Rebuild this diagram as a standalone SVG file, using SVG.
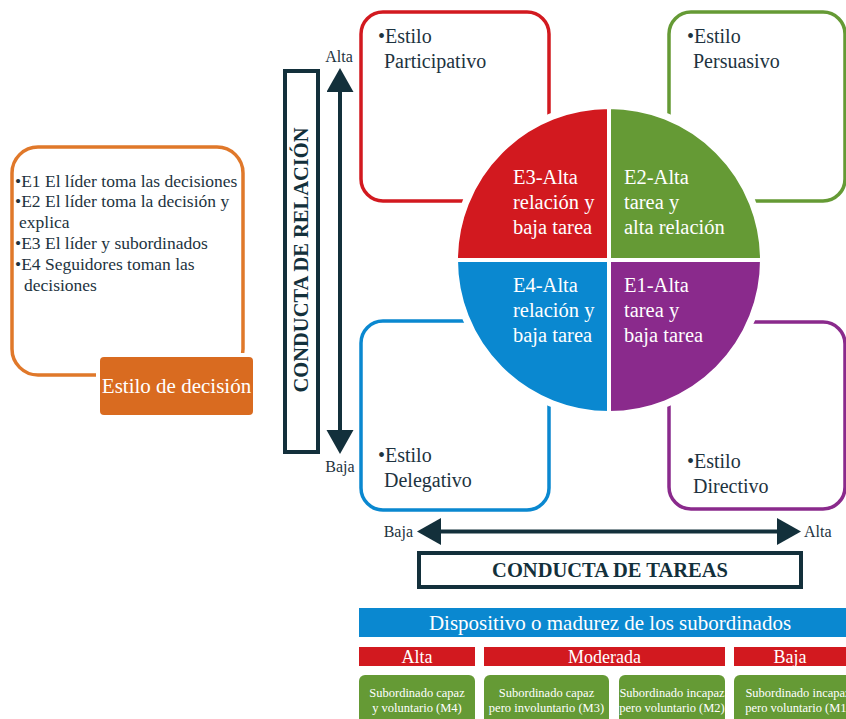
<svg xmlns="http://www.w3.org/2000/svg" width="846" height="719" viewBox="0 0 846 719">
  <defs>
    <style>
      .serif { font-family: "Liberation Serif", "Times New Roman", serif; }
      .dark { fill: #1d3340; }
      .lbl { font-size: 20px; }
      .quad { font-size: 20.5px; fill: #ffffff; }
      .axis { font-size: 16px; fill: #1d3340; }
      .title { font-size: 20.5px; font-weight: bold; fill: #13303b; }
      .frame { fill: #ffffff; stroke-width: 3.5; }
      .axisbox { fill: none; stroke: #13303b; stroke-width: 4; }
      .axisline { stroke: #13303b; stroke-width: 4; fill: none; marker-start: url(#head); marker-end: url(#head); }
      .wt { fill: #ffffff; }
      .small { font-size: 12.5px; fill: #ffffff; }
    </style>
    <marker id="head" markerUnits="userSpaceOnUse" markerWidth="26" markerHeight="28" refX="0" refY="13.5" orient="auto-start-reverse" viewBox="0 0 26 28">
      <path d="M0,0 L24,13.5 L0,27 Z" fill="#13303b"/>
    </marker>
  </defs>

  <rect width="846" height="719" fill="#ffffff"/>

  <!-- decision style panel -->
  <g id="decision-style">
    <rect x="12" y="147" width="231" height="228" rx="26" fill="#ffffff" stroke="#e0782a" stroke-width="3.5"/>
    <g class="serif dark" font-size="17.5">
      <text x="15" y="187">•E1 El líder toma las decisiones</text>
      <text x="15" y="207">•E2 El líder toma la decisión y</text>
      <text x="19" y="228">explica</text>
      <text x="15" y="249">•E3 El líder y subordinados</text>
      <text x="15" y="270">•E4 Seguidores toman las</text>
      <text x="24" y="291">decisiones</text>
    </g>
    <rect x="96" y="353" width="161" height="66" fill="#ffffff"/>
    <rect x="100" y="357" width="153" height="58" rx="4" fill="#d96b20"/>
    <text x="176.5" y="393" class="serif wt" font-size="21" text-anchor="middle">Estilo de decisión</text>
  </g>

  <!-- style boxes around the circle -->
  <g id="style-participativo">
    <rect x="361" y="12" width="188" height="189" rx="22" class="frame" stroke="#d2191f"/>
    <text x="378" y="43" class="serif dark lbl">•Estilo</text>
    <text x="384" y="68" class="serif dark lbl">Participativo</text>
  </g>
  <g id="style-persuasivo">
    <rect x="669" y="12" width="176" height="189" rx="22" class="frame" stroke="#659a35"/>
    <text x="687" y="43" class="serif dark lbl">•Estilo</text>
    <text x="693" y="68" class="serif dark lbl">Persuasivo</text>
  </g>
  <g id="style-delegativo">
    <rect x="361" y="321" width="188" height="189" rx="22" class="frame" stroke="#0a88d0"/>
    <text x="378" y="462" class="serif dark lbl">•Estilo</text>
    <text x="384" y="487" class="serif dark lbl">Delegativo</text>
  </g>
  <g id="style-directivo">
    <rect x="669" y="322" width="176" height="187" rx="22" class="frame" stroke="#8a2a8c"/>
    <text x="687" y="468" class="serif dark lbl">•Estilo</text>
    <text x="693" y="493" class="serif dark lbl">Directivo</text>
  </g>

  <!-- quadrant circle -->
  <g id="quadrants">
    <circle cx="609" cy="260" r="158" fill="#ffffff"/>
    <g id="q-e3">
      <path d="M609,260 L456,260 A153,153 0 0 1 609,107 Z" fill="#d2191f" stroke="#ffffff" stroke-width="4"/>
      <text class="serif quad" x="513"><tspan y="184">E3-Alta</tspan><tspan x="513" y="209">relación y</tspan><tspan x="513" y="234">baja tarea</tspan></text>
    </g>
    <g id="q-e2">
      <path d="M609,260 L609,107 A153,153 0 0 1 762,260 Z" fill="#659a35" stroke="#ffffff" stroke-width="4"/>
      <text class="serif quad" x="624"><tspan y="184">E2-Alta</tspan><tspan x="624" y="209">tarea y</tspan><tspan x="624" y="234">alta relación</tspan></text>
    </g>
    <g id="q-e4">
      <path d="M609,260 L609,413 A153,153 0 0 1 456,260 Z" fill="#0a88d0" stroke="#ffffff" stroke-width="4"/>
      <text class="serif quad" x="513"><tspan y="292">E4-Alta</tspan><tspan x="513" y="317">relación y</tspan><tspan x="513" y="342">baja tarea</tspan></text>
    </g>
    <g id="q-e1">
      <path d="M609,260 L762,260 A153,153 0 0 1 609,413 Z" fill="#8a2a8c" stroke="#ffffff" stroke-width="4"/>
      <text class="serif quad" x="624"><tspan y="292">E1-Alta</tspan><tspan x="624" y="317">tarea y</tspan><tspan x="624" y="342">baja tarea</tspan></text>
    </g>
  </g>

  <!-- axes -->
  <g id="connectors">
    <line x1="340" y1="92" x2="340" y2="430" class="axisline"/>
    <line x1="441" y1="531.5" x2="777" y2="531.5" class="axisline"/>
  </g>

  <g id="axis-relacion">
    <rect x="285" y="71" width="33" height="381" class="axisbox"/>
    <text class="serif title" transform="translate(308,260) rotate(-90)" text-anchor="middle">CONDUCTA DE RELACIÓN</text>
    <text x="339" y="62" class="serif axis" text-anchor="middle">Alta</text>
    <text x="340" y="472" class="serif axis" text-anchor="middle">Baja</text>
  </g>

  <g id="axis-tareas">
    <rect x="419" y="553" width="382" height="34" class="axisbox"/>
    <text x="610" y="577" class="serif title" text-anchor="middle">CONDUCTA DE TAREAS</text>
    <text x="413" y="537" class="serif axis" text-anchor="end">Baja</text>
    <text x="804" y="537" class="serif axis">Alta</text>
  </g>

  <!-- maturity table -->
  <g id="madurez">
    <rect x="359" y="608" width="490" height="29" fill="#0a88d0"/>
    <text x="610" y="630" class="serif wt" font-size="21" text-anchor="middle">Dispositivo o madurez de los subordinados</text>
  </g>
  <g id="nivel-alta">
    <rect x="359" y="647" width="116" height="19" fill="#d2191f"/>
    <text x="417" y="663" class="serif wt" font-size="18" text-anchor="middle">Alta</text>
  </g>
  <g id="nivel-moderada">
    <rect x="484" y="647" width="241" height="19" fill="#d2191f"/>
    <text x="604.5" y="663" class="serif wt" font-size="18" text-anchor="middle">Moderada</text>
  </g>
  <g id="nivel-baja">
    <rect x="734" y="647" width="120" height="19" fill="#d2191f"/>
    <text x="790" y="663" class="serif wt" font-size="18" text-anchor="middle">Baja</text>
  </g>
  <g id="m4">
    <rect x="359" y="675" width="116" height="60" rx="6" fill="#659a35"/>
    <text class="serif small" text-anchor="middle"><tspan x="417" y="697">Subordinado capaz</tspan><tspan x="417" y="712">y voluntario (M4)</tspan></text>
  </g>
  <g id="m3">
    <rect x="484" y="675" width="125" height="60" rx="6" fill="#659a35"/>
    <text class="serif small" text-anchor="middle"><tspan x="546.5" y="697">Subordinado capaz</tspan><tspan x="546.5" y="712">pero involuntario (M3)</tspan></text>
  </g>
  <g id="m2">
    <rect x="619" y="675" width="106" height="60" rx="6" fill="#659a35"/>
    <text class="serif small" text-anchor="middle"><tspan x="672" y="697">Subordinado incapaz</tspan><tspan x="672" y="712">pero voluntario (M2)</tspan></text>
  </g>
  <g id="m1">
    <rect x="734" y="675" width="130" height="60" rx="6" fill="#659a35"/>
    <text class="serif small" text-anchor="middle"><tspan x="798" y="697">Subordinado incapaz</tspan><tspan x="798" y="712">pero voluntario (M1)</tspan></text>
  </g>
</svg>
